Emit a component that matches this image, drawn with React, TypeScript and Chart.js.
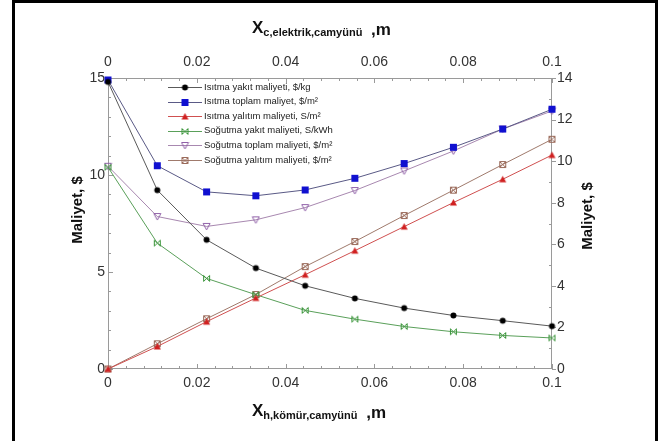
import React, { useEffect, useRef } from "react";
import { Chart, registerables } from "chart.js";

Chart.register(...registerables);

// ---------- data ----------
const X_VALUES = [0, 0.0111, 0.0222, 0.0333, 0.0444, 0.0556, 0.0667, 0.0778, 0.0889, 0.1];
const ISITMA_YAKIT = [14.8, 9.22, 6.66, 5.2, 4.29, 3.64, 3.14, 2.76, 2.49, 2.21];
const ISITMA_TOPLAM = [14.9, 10.48, 9.13, 8.93, 9.23, 9.83, 10.59, 11.43, 12.37, 13.39];
const ISITMA_YALITIM = [0, 1.16, 2.44, 3.66, 4.86, 6.1, 7.34, 8.58, 9.78, 11.03];
const SOGUTMA_YAKIT = [10.4, 6.49, 4.67, 3.83, 3.02, 2.57, 2.19, 1.92, 1.73, 1.6];
const SOGUTMA_TOPLAM = [10.45, 7.86, 7.35, 7.69, 8.32, 9.2, 10.21, 11.24, 12.37, 13.3];
const SOGUTMA_YALITIM = [0, 1.3, 2.59, 3.84, 5.28, 6.57, 7.91, 9.22, 10.54, 11.84];

const SERIES_LABELS = [
  "Isıtma yakıt maliyeti, $/kg",
  "Isıtma toplam maliyet, $/m²",
  "Isıtma yalıtım maliyeti, S/m²",
  "Soğutma yakıt maliyeti, S/kWh",
  "Soğutma toplam maliyeti, $/m²",
  "Soğutma yalıtım maliyeti, $/m²",
];

const X_TICKS = [0, 0.02, 0.04, 0.06, 0.08, 0.1];
const LEFT_TICKS = [0, 5, 10, 15];
const RIGHT_TICKS = [0, 2, 4, 6, 8, 10, 12, 14];

const TOP_TITLE = ["X", "c,elektrik,camyünü", " ,m"];
const BOTTOM_TITLE = ["X", "h,kömür,camyünü", " ,m"];
const Y_TITLE = "Maliyet, $";

// ---------- styling ----------
const FONT = "'Liberation Sans', Arial, sans-serif";
const LINE_COLORS = ["#5a5a5a", "#5a5a86", "#d05050", "#5aa05a", "#a888b0", "#a07a6c"];
const MARK_COLORS = ["#000000", "#1010d0", "#d02020", "#3c963c", "#9060a8", "#9a6a5a"];
const MARK_KINDS = ["circle", "square", "triangle", "bowtie", "downTri", "xsquare"];

function makeMarker(kind: string, color: string): HTMLCanvasElement {
  const c = document.createElement("canvas");
  c.width = 9;
  c.height = 9;
  const g = c.getContext("2d")!;
  g.fillStyle = color;
  g.strokeStyle = color;
  g.lineWidth = 1;
  g.beginPath();
  if (kind === "circle") {
    g.arc(4.5, 4.5, 3, 0, Math.PI * 2);
    g.fill();
  } else if (kind === "square") {
    g.fillRect(1, 1, 7, 7);
  } else if (kind === "triangle") {
    g.moveTo(4.5, 1);
    g.lineTo(8, 7.5);
    g.lineTo(1, 7.5);
    g.closePath();
    g.fill();
  } else if (kind === "bowtie") {
    g.moveTo(1.5, 1.5); g.lineTo(7.5, 7.5);
    g.moveTo(1.5, 7.5); g.lineTo(7.5, 1.5);
    g.moveTo(1.5, 1.5); g.lineTo(1.5, 7.5);
    g.moveTo(7.5, 1.5); g.lineTo(7.5, 7.5);
    g.stroke();
  } else if (kind === "downTri") {
    g.moveTo(1, 1.5);
    g.lineTo(8, 1.5);
    g.lineTo(4.5, 8);
    g.closePath();
    g.stroke();
  } else {
    g.rect(1.5, 1.5, 6, 6);
    g.moveTo(1.5, 1.5); g.lineTo(7.5, 7.5);
    g.moveTo(1.5, 7.5); g.lineTo(7.5, 1.5);
    g.stroke();
  }
  return c;
}

function drawSubTitle(ctx: CanvasRenderingContext2D, parts: string[], x: number, y: number) {
  ctx.save();
  ctx.fillStyle = "#111";
  ctx.textBaseline = "alphabetic";
  ctx.textAlign = "left";
  let cx = x;
  ctx.font = `bold 17px ${FONT}`;
  ctx.fillText(parts[0], cx, y);
  cx += ctx.measureText(parts[0]).width;
  ctx.font = `bold 11px ${FONT}`;
  ctx.fillText(parts[1], cx, y + 3);
  cx += ctx.measureText(parts[1]).width + 4;
  ctx.font = `bold 17px ${FONT}`;
  ctx.fillText(parts[2], cx, y + 2);
  ctx.restore();
}

const decorPlugin = {
  id: "decor",
  beforeDraw(chart: any) {
    const ctx = chart.ctx as CanvasRenderingContext2D;
    ctx.save();
    ctx.fillStyle = "#fff";
    ctx.fillRect(0, 0, chart.width, chart.height);
    ctx.fillStyle = "#000";
    ctx.fillRect(12, 0, 646, 3);
    ctx.fillRect(12, 0, 3, chart.height);
    ctx.fillRect(655, 0, 3, chart.height);
    ctx.restore();
  },
  beforeDatasetsDraw(chart: any) {
    const ctx = chart.ctx as CanvasRenderingContext2D;
    const a = chart.chartArea;
    const xs = chart.scales.x;
    const yl = chart.scales.y;
    const yr = chart.scales.y2;
    ctx.save();
    ctx.strokeStyle = "#9a9a9a";
    ctx.lineWidth = 1;
    ctx.strokeRect(a.left + 0.5, a.top + 0.5, a.right - a.left - 1, a.bottom - a.top - 1);
    ctx.beginPath();
    for (let i = 0; i <= 25; i++) {
      const v = i * 0.004;
      const px = Math.round(xs.getPixelForValue(v)) + 0.5;
      const len = i % 5 === 0 ? 5 : 3;
      ctx.moveTo(px, a.bottom);
      ctx.lineTo(px, a.bottom - len);
      ctx.moveTo(px, a.top);
      ctx.lineTo(px, a.top + len);
    }
    for (let v = 0; v <= 15; v++) {
      const py = Math.round(yl.getPixelForValue(v)) + 0.5;
      const len = v % 5 === 0 ? 5 : 3;
      ctx.moveTo(a.left, py);
      ctx.lineTo(a.left + len, py);
    }
    for (let v = 0; v <= 14; v++) {
      const py = Math.round(yr.getPixelForValue(v)) + 0.5;
      if (v % 2 === 0) {
        ctx.moveTo(a.right, py);
        ctx.lineTo(a.right + 4, py);
      } else {
        ctx.moveTo(a.right, py);
        ctx.lineTo(a.right - 3, py);
      }
    }
    ctx.stroke();
    ctx.restore();
  },
  afterDraw(chart: any) {
    const ctx = chart.ctx as CanvasRenderingContext2D;
    // axis titles
    drawSubTitle(ctx, TOP_TITLE, 252, 33);
    drawSubTitle(ctx, BOTTOM_TITLE, 252, 416);
    ctx.save();
    ctx.fillStyle = "#111";
    ctx.font = `bold 15px ${FONT}`;
    ctx.textAlign = "center";
    ctx.textBaseline = "middle";
    ctx.translate(78, 210);
    ctx.rotate(-Math.PI / 2);
    ctx.fillText(Y_TITLE, 0, 0);
    ctx.restore();
    ctx.save();
    ctx.fillStyle = "#111";
    ctx.font = `bold 15px ${FONT}`;
    ctx.textAlign = "center";
    ctx.textBaseline = "middle";
    ctx.translate(588, 216);
    ctx.rotate(-Math.PI / 2);
    ctx.fillText(Y_TITLE, 0, 0);
    ctx.restore();
    // legend
    ctx.save();
    ctx.font = `9.5px ${FONT}`;
    ctx.textBaseline = "middle";
    ctx.textAlign = "left";
    chart.data.datasets.forEach((ds: any, i: number) => {
      const y = 87 + i * 14.6;
      ctx.strokeStyle = ds.borderColor;
      ctx.lineWidth = 1;
      ctx.beginPath();
      ctx.moveTo(168, Math.round(y) + 0.5);
      ctx.lineTo(202, Math.round(y) + 0.5);
      ctx.stroke();
      const m = ds.pointStyle as HTMLCanvasElement;
      ctx.drawImage(m, 185 - m.width / 2, Math.round(y) + 0.5 - m.height / 2);
      ctx.fillStyle = "#222";
      ctx.fillText(ds.label, 204, y);
    });
    ctx.restore();
  },
};

export default function App() {
  const ref = useRef<HTMLCanvasElement>(null);

  useEffect(() => {
    const canvas = ref.current!;
    const seriesValues = [
      ISITMA_YAKIT,
      ISITMA_TOPLAM,
      ISITMA_YALITIM,
      SOGUTMA_YAKIT,
      SOGUTMA_TOPLAM,
      SOGUTMA_YALITIM,
    ];
    const datasets = seriesValues.map((vals, i) => ({
      label: SERIES_LABELS[i],
      data: X_VALUES.map((x, j) => ({ x, y: vals[j] })),
      borderColor: LINE_COLORS[i],
      backgroundColor: MARK_COLORS[i],
      borderWidth: 1,
      pointStyle: makeMarker(MARK_KINDS[i], MARK_COLORS[i]),
      pointRadius: 3,
      tension: 0,
      clip: false as any,
      xAxisID: "x",
      yAxisID: "y",
    }));

    const tickFont = { family: FONT, size: 14 };
    const chart = new Chart(canvas, {
      type: "line",
      data: { datasets },
      options: {
        animation: false,
        responsive: false,
        devicePixelRatio: 1,
        layout: { padding: 0 },
        plugins: { legend: { display: false }, tooltip: { enabled: false } },
        scales: {
          x: {
            type: "linear",
            position: "bottom",
            min: 0,
            max: 0.1,
            grid: { display: false, drawTicks: false },
            border: { display: false },
            afterBuildTicks: (s: any) => {
              s.ticks = X_TICKS.map((v) => ({ value: v }));
            },
            afterFit: (s: any) => {
              s.height = 72;
            },
            ticks: { color: "#333", font: tickFont, padding: 6, maxRotation: 0, callback: (v: any) => String(v) },
          },
          x2: {
            type: "linear",
            position: "top",
            min: 0,
            max: 0.1,
            grid: { display: false, drawTicks: false },
            border: { display: false },
            afterBuildTicks: (s: any) => {
              s.ticks = X_TICKS.map((v) => ({ value: v }));
            },
            afterFit: (s: any) => {
              s.height = 78;
            },
            ticks: { color: "#333", font: tickFont, padding: 7, maxRotation: 0, callback: (v: any) => String(v) },
          },
          y: {
            type: "linear",
            position: "left",
            min: 0,
            max: 15,
            grid: { display: false, drawTicks: false },
            border: { display: false },
            afterBuildTicks: (s: any) => {
              s.ticks = LEFT_TICKS.map((v) => ({ value: v }));
            },
            afterFit: (s: any) => {
              s.width = 108;
            },
            ticks: { color: "#333", font: tickFont, padding: 3, callback: (v: any) => String(v) },
          },
          y2: {
            type: "linear",
            position: "right",
            min: 0,
            max: 14,
            grid: { display: false, drawTicks: false },
            border: { display: false },
            afterBuildTicks: (s: any) => {
              s.ticks = RIGHT_TICKS.map((v) => ({ value: v }));
            },
            afterFit: (s: any) => {
              s.width = 119;
            },
            ticks: { color: "#333", font: tickFont, padding: 5, callback: (v: any) => String(v) },
          },
        },
      },
      plugins: [decorPlugin],
    });
    return () => chart.destroy();
  }, []);

  return (
    <div style={{ position: "absolute", left: 0, top: 0, width: 671, height: 441, background: "#fff" }}>
      <canvas ref={ref} width={671} height={441} style={{ display: "block", width: 671, height: 441 }} />
    </div>
  );
}
